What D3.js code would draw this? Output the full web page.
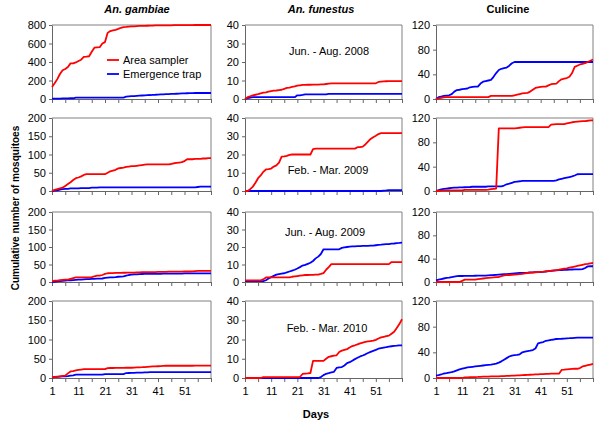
<!DOCTYPE html>
<html>
<head>
<meta charset="utf-8">
<script src="https://cdn.jsdelivr.net/npm/d3@7"></script>
<style>
  body { margin: 0; background: #fff; }
  svg { display: block; font-family: Arial, "Liberation Sans", sans-serif; }
</style>
</head>
<body>
<div id="chart"></div>
<script>
// Days of each sampling period
const days = d3.range(1, 62);
const dayLabels = [1, 11, 21, 31, 41, 51];
const species = ["An. gambiae", "An. funestus", "Culicine"];
const periods = ["Jun. - Aug. 2008", "Feb. - Mar. 2009", "Jun. - Aug. 2009", "Feb. - Mar. 2010"];
const seriesNames = ["Area sampler", "Emergence trap"];

// y axis maxima and tick steps, per species column
const gambiaeMax = [800, 200, 200, 200];
const gambiaeStep = [200, 50, 50, 50];
const funestusMax = [40, 40, 40, 40];
const funestusStep = [10, 10, 10, 10];
const culicineMax = [120, 120, 120, 120];
const culicineStep = [40, 40, 40, 40];

// An. gambiae
const gambiae2008Area = [130,170,215,270,310,325,345,385,385,395, 410,425,455,458,462,510,555,558,560,600, 615,715,735,742,748,758,770,778,780,783, 785,786,788,790,790,791,792,793,794,795, 795,796,796,797,797,797,798,798,798,798, 799,799,799,799,800,800,800,800,800,800, 800];
const gambiae2008Trap = [3,5,5,5,6,6,7,8,8, 15,15,15,15,15,15,15,15,15,15,15,15,15,15,15,15,15,15,15, 25,28,30,32,34,36,38,40,42,43, 45,46,48,50,50,52,53,55,55,57, 58,60,60,62,63,64,65,65,65,65, 65,65,65];
const gambiae2009Area = [0,3,5,7,9,14,19,24,30,35, 37,40,44,46,46,46,46,46,46,46, 46,50,54,56,58,62,63,64,66,67, 68,68,69,70,71,72,73,73,73,73, 73,73,73,73,73,74,76,77,78,79, 82,87,87,87,88,88,88,89,89,90, 90];
const gambiae2009Trap = [0,1,2,4,5,6,6,7,7,7, 7,8,8,8,8,9,9,9,10, 10,10,10,10,10,10,10,10,10,10,10,10,10,10,10,10,10,10,10,10,10,10,10,10,10,10,10,10,10,10,10,10,10,10,10,10, 11,12,12,12,12,12];
const gambiae2009bArea = [2,3.8,4,5,6,6.5,7,9,11,13, 13,13,13,13,13,14,16,18,18,20, 23,25,25.5,25.5,26,26,26,26.5,26.5,27, 27,27,27.5,27.5,28,28,28,28.5,28.5,28.5, 29,29,29,29,29.5,29.5,29.5,29.5,29.5,29.5, 30,30,30,30.5,31,31.5,32,32,32,32, 32];
const gambiae2009bTrap = [0,0.5,1.5,2.5,3,3.8,4.5,5,5.5,6, 6.6,7,7.5,8,8.5,9,9.2,9.4,9.4,10, 11.5,12.5,13,13.5,14,15,15.5,16,18,20, 21,21.5,22,22.6,22.8,23,23.5,23.5,23.5,23.5, 23.5,23.5,24,24,24,24,24,24,24,24, 24.5,24.5,24.5,24.5,24.5,24.5,24.5,24.5,24.5,24.5,24.5];
const gambiae2010Area = [2,2.6,3.5,4.5,5.5,6,12,17,18,19.7, 21,22,23,23,23,23,23,23,23,23, 23,25.8,26,26,26.2,26.2,26.4,26.4,26.6,26.6, 26.6,27,27.5,27.8,28,28.5,29,29.5,30,30, 30.5,31,31.5,31.8,31.8,31.8,31.8,31.8,31.8,31.8, 31.8,31.8,31.8,31.8,32,32,32,32,32,32, 32];
const gambiae2010Trap = [1,2.6,3,3.5,4,4.3,5,6,7,8.6, 8.6,8.6,8.6,8.6,8.6,8.6,8.6,8.6,8.6,8.6, 10.3,10.3,10.3,10.3,10.3,10.3,10.3,10.3, 12.9,13,13.2,13.5,13.8,14,14, 14.5,14.8,15,15.2,15.5, 15.5,15.5,15.5,15.5,15.5,15.5,15.5,15.5,15.5,15.5,15.5,15.5,15.5,15.5,15.5,15.5,15.5,15.5,15.5,15.5,15.5];

// An. funestus
const funestus2008Area = [0,1,1.5,2,2.3,2.6,3,3.4,3.6,4, 4.3,4.5,4.6,4.8,5,5.5,6,6.2,6.5,6.8, 7.2,7.4,7.6,7.6,7.7,7.7,7.8,7.8,7.8,7.9, 7.9,8.1,8.3,8.4,8.5,8.5,8.5,8.5,8.5,8.5, 8.5,8.5,8.5,8.5,8.5,8.5,8.5,8.5,8.5,8.5, 8.5,9.2,9.4,9.5,9.6,9.7,9.7,9.7,9.7,9.7, 9.7];
const funestus2008Trap = [0,0.5,0.8, 1,1,1,1,1,1,1,1,1,1,1,1,1,1,1,1,1, 2,2,2.2, 2.5,2.5,2.5,2.5,2.5,2.5,2.5,2.5,2.5, 2.8,2.8,2.8,2.8,2.8,2.8,2.8,2.8,2.8,2.8,2.8,2.8,2.8,2.8,2.8,2.8,2.8,2.8,2.8,2.8,2.8,2.8,2.8,2.8,2.8,2.8,2.8,2.8,2.8];
const funestus2009Area = [0,0,1,2.4,4.5,7,8.5,10.5,11.8,12, 12.3,13.4,14,15.5,18.8,19,19.3,19.8, 20,20,20,20,20,20,20,20, 23, 23.2,23.2,23.2,23.2,23.2,23.2,23.2,23.2,23.2,23.2,23.2,23.2,23.2,23.2,23.2,23.2, 24,24,24.3,25.5,27,28.5,29.5,30.3,31.2, 31.7,31.7,31.7,31.7,31.7,31.7,31.7,31.7,31.7];
const funestus2009Trap = [0,0,0,0,0,0,0,0,0,0, 0,0,0,0,0,0,0,0,0,0, 0,0,0,0,0,0,0,0,0,0, 0,0,0,0,0,0,0,0,0,0, 0,0,0,0,0,0,0,0,0,0, 0,0,0,0.2,0.3,0.5,0.5,0.5,0.5,0.5, 0.5];
const funestus2009bArea = [0.9,0.9,0.9,0.9,0.9,0.9,0.9, 1.5, 2.6,2.6,2.6,2.6,2.6,2.6,2.6,2.6,2.6,2.6, 3,3.2,3.4,3.6,3.8, 4,4,4.1,4.1,4.2,4.2, 4.6,5.1,7,8.5, 10.2,10.2,10.2,10.2,10.2,10.2,10.2,10.2,10.2,10.2,10.2,10.2,10.2,10.2,10.2,10.2,10.2,10.2,10.2,10.2,10.2,10.2,10.2, 11.4,11.4,11.4,11.4,11.4];
const funestus2009bTrap = [0.5,0.5,0.5,0.5,0.5,0.5,0.5,0.5, 1,2,2.8,3.5,4.2,4.5,4.8,5,5.5,6, 6.5,7,7.7,8.5,9.4,9.8,10.4,11,12,13.5, 14.5,16,18.7, 18.7,18.7,18.7,18.7,18.7,18.7, 19.5,19.8,20, 20.2,20.3,20.4,20.5,20.5,20.6,20.6, 20.7,20.8,20.8,21,21.2,21.3,21.5,21.6,21.7,21.9, 22,22.2,22.3,22.5];
const funestus2010Area = [0,0,0,0,0,0,0, 0.5,0.5,0.5,0.5,0.5,0.5,0.5,0.5,0.5,0.5,0.5,0.5,0.5,0.5,0.5, 2.1,2.3,2.4,2.6, 8.9,8.9,8.9,8.9,8.9, 10,11,11.3,11.6,11.8,13.5,14.2,14.6,15, 15.8,16.6,17,17.5,18,18.4,18.8,19,19.2,19.4, 19.8,20.5,21.1,21.4,21.7,22,23,24,26,28,30.5];
const funestus2010Trap = [0,0,0,0,0,0,0,0,0,0, 0,0,0,0,0,0,0,0,0,0, 0,0,0,0,0,0,0,0,0, 0.5,1.5,2.2,2.5,2.9,3.2,5.2,5.5,5.7,6.5, 7.7,8.2,9,9.8,10.5,11.2,11.7,12.3,13,13.6, 14.1,14.6,15.2,15.5,15.8,16,16.3,16.5,16.7,16.8, 17,17];

// Culicine
const culicine2008Area = [0,1,2,2.5, 3,3,3,3,3,3,3,3,3,3,3,3,3,3,3,3,3, 5,5,5,5,5,5,5,5,5, 6,7,8,9,9.5,10,12,15,18,19, 19.5,20,20,22,24,24.5,25,29,32,33, 34,36,42,52,54,56,57,58,60,62, 64];
const culicine2008Trap = [0,3,4,5,5.5,6,8,12,14.5,15, 16,16.5,17,19,19.5,20,20,25,28,29, 30,31,36,42,47,49,50,51,54,58, 60,60,60,60,60,60,60,60,60,60, 60,60,60,60,60,60,60,60,60,60, 60,60,60,60,60,60,60,60,60,60, 60];
const culicine2009Area = [0,0,0.5, 1,1,1,1,1,1,1,1, 2,2,2,2,2,2,2,2,2, 2.2,3,3.5,4, 103,103,103,103,103,103,103, 103.5,104,104.5,105, 105,105,105,105,105,105,105,105,105, 109,109.5,110,110,110,110, 111,112,113,113.5,114,114.5,115,115,115.5,116,116];
const culicine2009Trap = [0,1.5,2.5,3.5,4,4.5,5,5.5,5.5,5.8, 6,6.2,6.4,6.6, 7,7,7,7,7,7, 7.5, 7.7,7.7,7.7,7.7,7.7, 9,11,12,13.5,15,15.5,16, 16.6,16.6,16.6,16.6,16.6,16.6,16.6,16.6,16.6,16.6,16.6,16.6,16.6, 17.5,19,20,21,22,23,24,25.5,27.5, 27.6,27.6,27.6,27.6,27.6,27.6];
const culicine2009bArea = [0,0,0,0,0,0,0,0,0,0, 2,4,4,4,4,4, 5,5.5,6,6.5, 7,7.5,8,8.3,8.6,10,11.4,11.8,12,12.4, 12.8,13,13.5,14,14.8,15.4,16,16.3,16.7,17, 17.4,17.8,18.3,18.8,19.3,20,20.5,21,22,23, 23.5,24.6,25.5,26.5,27.5,28.6,29.5,30.5,31,32, 32.6];
const culicine2009bTrap = [2.9,4,5,6,7,7.4,8.5,9.3,10,10.3, 10.3,10.4,10.5,10.5,10.6,10.7,10.8,10.9,11,11, 11.4,11.8,12,12.3,12.6,13,13.3,13.6,14,14.5, 14.8,15.1,15.4,15.6,15.8,16,16.3,16.5,16.8,17, 17.1,17.5,18,18.5,19,19.5,20,20.2,20.5,20.8, 21,21.2,21.4,21.6,21.7,21.7,22,24,26.8,27, 27];
const culicine2010Area = [0,0,0,0,0,0,0,0,0,0,0, 1,1,1.2,1.3,1.5,1.6,1.8,2,2,2.2,2.4,2.5,2.5, 2.6,2.8,3,3.2,3.4,3.6,3.8,4, 4.1, 4.5,4.7,4.9,5.1,5.3,5.5,5.7,5.9,6.1,6.3,6.5, 6.7,6.7,6.7,6.7, 12.5,12.9,13.5,13.8,14.1,14.4,14.4,15.5,18,19,20,21,22];
const culicine2010Trap = [3.6,4.5,5.5,7,7.7,8.5,9,10.3,12,13.5, 14.5,15.5,16.5,17,17.5,18,18.5,19,19.5,20, 20.5,21,21.6,22.5,24,26,28.5,31,33.5,35, 35.5,36,37,40,41.2,42,42.5,43.5,46,54, 55,56,58,58.5,59.5,60,60.8,61,61.2,61.5, 61.8,62,62.3,62.6,62.8,63,63,63,63,63, 63];

// Panels: rows = periods, columns = species
const areaSeries = [
    [gambiae2008Area, funestus2008Area, culicine2008Area],
    [gambiae2009Area, funestus2009Area, culicine2009Area],
    [gambiae2009bArea, funestus2009bArea, culicine2009bArea],
    [gambiae2010Area, funestus2010Area, culicine2010Area]
];
const trapSeries = [
    [gambiae2008Trap, funestus2008Trap, culicine2008Trap],
    [gambiae2009Trap, funestus2009Trap, culicine2009Trap],
    [gambiae2009bTrap, funestus2009bTrap, culicine2009bTrap],
    [gambiae2010Trap, funestus2010Trap, culicine2010Trap]
];
const yMax = [gambiaeMax, funestusMax, culicineMax];
const yStep = [gambiaeStep, funestusStep, culicineStep];

// Layout (pixel boxes of each plot area)
const cols = [{x0: 52, x1: 211, title: 137}, {x0: 245, x1: 402, title: 321}, {x0: 436, x1: 593, title: 508}];
const rows = [{y0: 25, y1: 99}, {y0: 118, y1: 191}, {y0: 212, y1: 282}, {y0: 301, y1: 378}];
const periodPos = [{x: 329, y: 55}, {x: 328, y: 174}, {x: 325, y: 236}, {x: 327, y: 332}];
const colors = ["#ff0000", "#0000ff"];
const axisColor = "#808080";
const textColor = "#000";

const svg = d3.select("#chart").append("svg")
    .attr("width", 600)
    .attr("height", 421);

svg.append("rect").attr("width", 600).attr("height", 421).attr("fill", "#fff");

rows.forEach((row, r) => {
    cols.forEach((col, c) => {
        const x = d3.scaleLinear().domain([1, 61]).range([col.x0, col.x1]);
        const y = d3.scaleLinear().domain([0, yMax[c][r]]).range([row.y1, row.y0]);
        const g = svg.append("g");

        // Plot area frame (top and right)
        g.append("path")
            .attr("d", `M${col.x0},${row.y0}H${col.x1}V${row.y1}`)
            .attr("fill", "none")
            .attr("stroke", axisColor)
            .attr("stroke-width", 1);

        // Add y axis
        g.append("g")
            .attr("class", "axis")
            .attr("transform", `translate(${col.x0},0)`)
            .call(d3.axisLeft(y)
                .tickValues(d3.range(0, yMax[c][r] + 1, yStep[c][r]))
                .tickSize(3)
                .tickPadding(3)
                .tickSizeOuter(0));

        // Add x axis (labels only on the bottom row)
        g.append("g")
            .attr("class", "axis")
            .attr("transform", `translate(0,${row.y1})`)
            .call(d3.axisBottom(x)
                .tickValues(d3.range(1, 62, 5))
                .tickSize(4)
                .tickPadding(5)
                .tickSizeOuter(0)
                .tickFormat(d => (r === rows.length - 1 && dayLabels.includes(d)) ? d : ""));

        g.selectAll(".axis path, .axis line")
            .attr("stroke", "#666")
            .attr("stroke-width", 1);
        g.selectAll(".axis text")
            .attr("fill", textColor)
            .style("font-size", "11px");

        // Add lines
        [trapSeries[r][c], areaSeries[r][c]].forEach((values, i) => {
            g.append("path")
                .datum(values)
                .attr("fill", "none")
                .attr("stroke", i === 0 ? colors[1] : colors[0])
                .attr("stroke-width", 1.8)
                .attr("stroke-linejoin", "round")
                .attr("d", d3.line()
                    .x((d, k) => x(days[k]))
                    .y(d => y(d)));
        });
    });
});

// Column titles
cols.forEach((col, c) => {
    svg.append("text")
        .attr("x", col.title)
        .attr("y", 13)
        .attr("text-anchor", "middle")
        .style("font-size", "11px")
        .style("font-weight", "bold")
        .style("font-style", c < 2 ? "italic" : "normal")
        .text(species[c]);
});

// Period labels in the middle column
periods.forEach((p, r) => {
    svg.append("text")
        .attr("x", periodPos[r].x)
        .attr("y", periodPos[r].y)
        .attr("text-anchor", "middle")
        .style("font-size", "11px")
        .text(p);
});

// Legend
seriesNames.forEach((name, i) => {
    const ly = 60 + i * 14;
    svg.append("line")
        .attr("x1", 107).attr("x2", 119)
        .attr("y1", ly).attr("y2", ly)
        .attr("stroke", colors[i])
        .attr("stroke-width", 1.8);
    svg.append("text")
        .attr("x", 123)
        .attr("y", ly + 4)
        .style("font-size", "11px")
        .text(name);
});

// Axis titles
svg.append("text")
    .attr("transform", "translate(19,208) rotate(-90)")
    .attr("text-anchor", "middle")
    .style("font-size", "10px")
    .style("font-weight", "bold")
    .text("Cumulative number of mosquitoes");

svg.append("text")
    .attr("x", 316)
    .attr("y", 418)
    .attr("text-anchor", "middle")
    .style("font-size", "11px")
    .style("font-weight", "bold")
    .text("Days");
</script>
</body>
</html>
